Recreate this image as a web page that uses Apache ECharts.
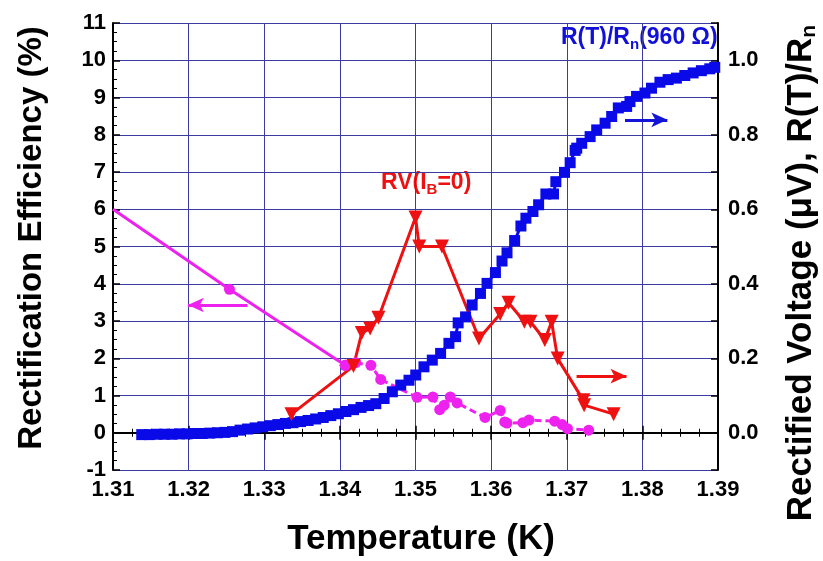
<!DOCTYPE html>
<html>
<head>
<meta charset="utf-8">
<script src="https://cdn.jsdelivr.net/npm/echarts@6/dist/echarts.min.js"></script>
<style>
html,body{margin:0;padding:0;background:#fff;}
#chart_1{width:823px;height:561px;}
</style>
</head>
<body>
<div id="chart_1"></div>
<script>
// R(T)/Rn, right axis
var rtT = [1.3138,1.3148,1.3158,1.3168,1.3178,1.3188,1.3198,1.3208,1.3218,1.3228,1.3238,1.3248,1.3258,1.3268,1.3278,1.3288,1.3298,1.3308,1.3318,1.3328,1.3338,1.3348,1.3358,1.3368,1.3378,1.3388,1.3398,1.3408,1.3418,1.3428,1.3438,
  1.34475,1.34585,1.34694,1.34805,1.34914,1.35003,1.35112,1.35222,1.35332,1.35442,1.35530,1.35564,1.35662,1.35749,1.35859,1.35946,
  1.36057,1.36144,1.36210,1.36311,1.36394,1.36460,1.36553,1.36628,1.36724,1.36825,1.36856,1.36970,1.37045,1.37111,
  1.37132,1.37198,1.37309,1.37396,1.37507,1.37594,1.37682,1.37792,1.37836,1.37923,1.38034,1.38121,1.38232,1.38341,1.38450,1.38561,1.38671,1.38780,1.38891,1.38957]
var rtV = [-0.005,-0.005,-0.004,-0.004,-0.004,-0.003,-0.003,-0.002,-0.002,-0.001,0.000,0.001,0.003,0.007,0.010,0.013,0.016,0.019,0.022,0.025,0.027,0.030,0.033,0.037,0.041,0.046,0.051,0.057,0.062,0.068,0.073,
  0.078,0.092,0.110,0.128,0.141,0.155,0.177,0.195,0.213,0.240,0.258,0.295,0.311,0.343,0.374,0.401,
  0.430,0.461,0.483,0.516,0.555,0.576,0.594,0.612,0.641,0.641,0.674,0.699,0.725,0.758,
  0.764,0.777,0.795,0.813,0.831,0.849,0.872,0.876,0.889,0.903,0.912,0.925,0.941,0.948,0.952,0.959,0.966,0.972,0.977,0.981]

// RV(IB=0), right axis
var rvT = [1.3336,1.3418,1.3429,1.3440,1.3451,1.3500,1.3505,1.3535,1.3584,1.3612,1.3623,1.3644,1.3652,1.3671,1.3680,1.3688,1.3722,1.3723,1.3762]
var rvV = [0.050,0.179,0.268,0.280,0.309,0.578,0.500,0.500,0.253,0.319,0.349,0.298,0.298,0.249,0.298,0.199,0.087,0.074,0.050]

// rectification efficiency, left axis
var effT = [1.3100,1.3254,1.3407,1.3421,1.3441,1.3454,1.3502,1.3523,1.3532,1.3538,1.3546,1.3555,1.3592,1.3612,1.3618,1.3621,1.3642,1.3650,1.3684,1.3694,1.3701,1.3729]
var effV = [6.00,3.85,1.81,1.88,1.81,1.43,0.95,0.96,0.62,0.74,0.96,0.80,0.41,0.60,0.29,0.26,0.27,0.34,0.31,0.22,0.11,0.07]
var effSolidEnd = 2

// arrows [start, end]
var rtArrow = [[1.3777,0.840],[1.3833,0.840]]
var rvArrow = [[1.3713,0.152],[1.3779,0.152]]
var effArrow = [[1.3278,3.43],[1.3199,3.43]]

var FONT = 'Liberation Sans'
var gridColor = '#3c3ca0'

function pairs(xs, ys){
  var out = []
  for (var i = 0; i < xs.length; i++) out.push([xs[i], ys[i]])
  return out
}
function arrow(a, color){
  return {
    silent: true,
    symbol: ['none','arrow'],
    symbolSize: [11,16],
    label: {show:false},
    lineStyle: {color: color, width: 3, type: 'solid'},
    data: [[{coord: a[0]}, {coord: a[1]}]]
  }
}

var effSolid = pairs(effT.slice(0, effSolidEnd + 1), effV.slice(0, effSolidEnd + 1))
effSolid[0] = {value: effSolid[0], symbol: 'none'}
var effDash = pairs(effT.slice(effSolidEnd), effV.slice(effSolidEnd))

var axisTxt = {fontFamily: FONT, fontWeight: 'bold', fontSize: 22, color: '#000'}

var char1 = echarts.init(document.getElementById('chart_1'))
var option1 = {
  animation: false,
  backgroundColor: '#fff',
  grid: {left: 113, right: 105, top: 23, bottom: 91},
  xAxis: [
    {
      type: 'value', min: 1.31, max: 1.39, interval: 0.01,
      axisLine: {lineStyle: {color: '#000', width: 2}},
      axisTick: {inside: true, length: 7, lineStyle: {color: '#000', width: 1.5}},
      minorTick: {show: true, splitNumber: 4, length: 4, lineStyle: {color: '#000', width: 1}},
      axisLabel: Object.assign({margin: 9, formatter: function(v){ return v.toFixed(2) }}, axisTxt),
      splitLine: {show: true, lineStyle: {color: gridColor, width: 1}}
    },
    {
      type: 'value', position: 'top', min: 1.31, max: 1.39, interval: 0.01,
      axisLine: {show: true, lineStyle: {color: '#000', width: 2}},
      axisTick: {show: true, inside: true, length: 7, lineStyle: {color: '#000', width: 1.5}},
      minorTick: {show: true, splitNumber: 4, length: 4, lineStyle: {color: '#000', width: 1}},
      axisLabel: {show: false},
      splitLine: {show: false}
    }
  ],
  yAxis: [
    {
      type: 'value', min: -1, max: 11, interval: 1,
      axisLine: {lineStyle: {color: '#000', width: 2}},
      axisTick: {inside: true, length: 7, lineStyle: {color: '#000', width: 1.5}},
      minorTick: {show: true, splitNumber: 4, length: 4, lineStyle: {color: '#000', width: 1}},
      axisLabel: Object.assign({margin: 7}, axisTxt),
      splitLine: {show: true, lineStyle: {color: gridColor, width: 1}}
    },
    {
      type: 'value', position: 'right', min: -0.1, max: 1.1, interval: 0.1,
      axisLine: {show: true, lineStyle: {color: '#000', width: 2}},
      axisTick: {show: true, inside: true, length: 7, lineStyle: {color: '#000', width: 1.5}},
      axisLabel: Object.assign({margin: 10, formatter: function(v){
        var k = Math.round(v * 10)
        if (k < 0 || k > 10 || k % 2) return ''
        return (k / 10).toFixed(1)
      }}, axisTxt),
      splitLine: {show: false}
    }
  ],
  series: [
    {
      name: 'eff solid', type: 'line', xAxisIndex: 0, yAxisIndex: 0,
      data: effSolid, symbol: 'circle', symbolSize: 11,
      itemStyle: {color: '#ee22ee'},
      lineStyle: {color: '#ee22ee', width: 3},
      markLine: arrow(effArrow, '#ee22ee')
    },
    {
      name: 'eff dash', type: 'line', xAxisIndex: 0, yAxisIndex: 0,
      data: effDash, symbol: 'circle', symbolSize: 11,
      itemStyle: {color: '#ee22ee'},
      lineStyle: {color: '#ee22ee', width: 3, type: [7,4]}
    },
    {
      name: 'R(T)/Rn', type: 'line', xAxisIndex: 0, yAxisIndex: 1,
      data: pairs(rtT, rtV), symbol: 'rect', symbolSize: 11,
      itemStyle: {color: '#0a0ae8'},
      lineStyle: {color: '#0a0ae8', width: 3},
      markLine: arrow(rtArrow, '#1414d8')
    },
    {
      name: 'RV', type: 'line', xAxisIndex: 0, yAxisIndex: 1,
      data: pairs(rvT, rvV), symbol: 'triangle', symbolRotate: 180, symbolSize: 14,
      itemStyle: {color: '#ee1111'},
      lineStyle: {color: '#ee1111', width: 3},
      markLine: arrow(rvArrow, '#ee1111')
    }
  ],
  graphic: [
    // axis titles
    {
      type: 'text', x: 421, y: 539, silent: true,
      style: {text: 'Temperature (K)', fill: '#000', font: 'bold 35px "Liberation Sans"', align: 'center', verticalAlign: 'middle'}
    },
    {
      type: 'text', x: 32, y: 238, rotation: Math.PI / 2, silent: true,
      style: {text: 'Rectification Efficiency (%)', fill: '#000', font: 'bold 33px "Liberation Sans"', align: 'center', verticalAlign: 'middle'}
    },
    {
      type: 'text', x: 801, y: 273, rotation: Math.PI / 2, silent: true,
      style: {
        text: 'Rectified Voltage (\u03bcV), R(T)/R{sub|n}', fill: '#000',
        font: 'bold 35px "Liberation Sans"', align: 'center', verticalAlign: 'middle',
        rich: {sub: {fontFamily: FONT, fontWeight: 'bold', fontSize: 21, fill: '#000', padding: [16,0,0,0]}}
      }
    },
    // curve labels
    {
      type: 'text', left: 561, top: 26, silent: true,
      style: {
        text: 'R(T)/R{sub|n}(960 \u03a9)', fill: '#1010d8',
        font: 'bold 23px "Liberation Sans"',
        rich: {sub: {fontFamily: FONT, fontWeight: 'bold', fontSize: 15, fill: '#1010d8', padding: [14,0,0,0]}}
      }
    },
    {
      type: 'text', left: 381, top: 171, silent: true,
      style: {
        text: 'RV(I{sub|B}=0)', fill: '#ee1111',
        font: 'bold 23px "Liberation Sans"',
        rich: {sub: {fontFamily: FONT, fontWeight: 'bold', fontSize: 15, fill: '#ee1111', padding: [14,0,0,0]}}
      }
    }
  ]
}
char1.setOption(option1)
</script>
</body>
</html>
